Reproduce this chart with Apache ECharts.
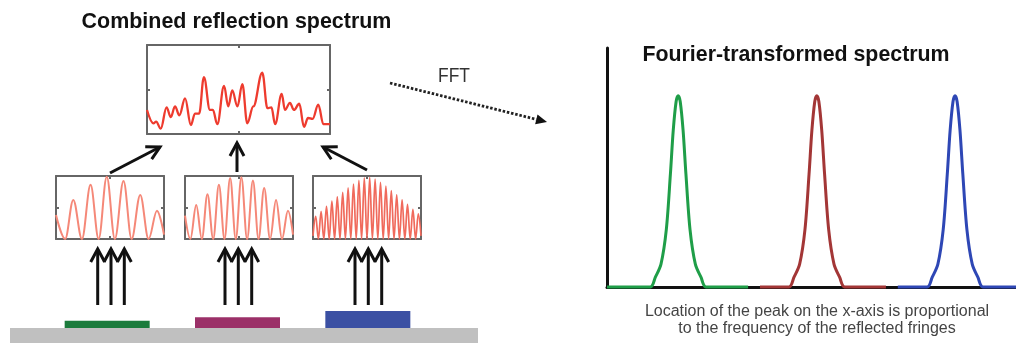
<!DOCTYPE html>
<html><head><meta charset="utf-8">
<script src="https://cdn.jsdelivr.net/npm/echarts@6/dist/echarts.min.js"></script>
<style>html,body{margin:0;padding:0;background:#fff}#c{width:1016px;height:343px}</style>
</head><body><div id="c"></div>
<script>
// ---- data ----
const combinedSpectrum = [
  [0,0.27],[0.035,0.12],[0.05,0.14],[0.075,0.06],[0.107,0.30],[0.13,0.19],[0.153,0.31],[0.177,0.21],
  [0.208,0.40],[0.24,0.10],[0.262,0.23],[0.285,0.23],[0.311,0.64],[0.344,0.27],[0.36,0.27],[0.384,0.11],
  [0.421,0.54],[0.444,0.31],[0.466,0.49],[0.494,0.31],[0.521,0.56],[0.548,0.12],[0.581,0.31],[0.63,0.69],
  [0.658,0.29],[0.68,0.30],[0.70,0.11],[0.736,0.45],[0.754,0.27],[0.781,0.35],[0.803,0.27],[0.832,0.34],
  [0.858,0.08],[0.88,0.18],[0.905,0.17],[0.936,0.33],[0.964,0.11],[1.0,0.11]
];
const fringesThin = [
  [0,0.38],[0.085,0],[0.16,0.62],[0.24,0],[0.32,0.86],[0.395,0],[0.47,0.99],[0.545,0],
  [0.625,0.92],[0.70,0],[0.78,0.70],[0.857,0],[0.935,0.45],[1.0,0.07]
];
const fringesMedium = [
  [0,0.37],[0.05,0],[0.104,0.54],[0.156,0],[0.208,0.71],[0.261,0],[0.314,0.86],[0.366,0],
  [0.418,0.97],[0.47,0],[0.522,0.98],[0.575,0],[0.629,0.93],[0.681,0],[0.733,0.81],[0.788,0],
  [0.843,0.62],[0.898,0],[0.953,0.45],[1.0,0.07]
];
const fringesThick = [
  [0,0.05],[0.025,0.36],[0.05,0],[0.075,0.44],[0.10,0],[0.125,0.52],[0.15,0],[0.175,0.60],[0.20,0],
  [0.225,0.67],[0.25,0],[0.275,0.74],[0.30,0],[0.325,0.81],[0.35,0],[0.375,0.87],[0.40,0],
  [0.425,0.93],[0.45,0],[0.475,0.97],[0.50,0],[0.525,0.98],[0.55,0],[0.575,0.95],[0.60,0],
  [0.625,0.90],[0.65,0],[0.675,0.84],[0.70,0],[0.725,0.77],[0.75,0],[0.775,0.70],[0.80,0],
  [0.825,0.62],[0.85,0],[0.875,0.55],[0.90,0],[0.925,0.47],[0.95,0],[0.975,0.40],[1.0,0.05]
];
const fftGreen = [
  [0,0],[10.6,0],[11.8,0.05],[13.2,0.12],[14.5,0.30],[15.5,0.59],[16.2,0.82],[16.9,0.97],[17.4,1],
  [17.9,0.97],[18.6,0.82],[19.3,0.59],[20.3,0.30],[21.6,0.12],[23.0,0.05],[24.2,0],[34.5,0]
];
const fftRed = [
  [37.4,0],[44.5,0],[45.7,0.05],[47.1,0.12],[48.4,0.30],[49.4,0.59],[50.1,0.82],[50.8,0.97],[51.3,1],
  [51.8,0.97],[52.5,0.82],[53.2,0.59],[54.2,0.30],[55.5,0.12],[56.9,0.05],[58.1,0],[68.2,0]
];
const fftBlue = [
  [71.1,0],[78.3,0],[79.5,0.05],[80.9,0.12],[82.2,0.30],[83.2,0.59],[83.9,0.82],[84.6,0.97],[85.1,1],
  [85.6,0.97],[86.3,0.82],[87.0,0.59],[88.0,0.30],[89.3,0.12],[90.7,0.05],[91.9,0],[100,0]
];
const filmNames = ['thin', 'medium', 'thick'];
const filmThickness = [7.3, 10.7, 17];
const titleLeft = 'Combined reflection spectrum';
const titleRight = 'Fourier-transformed spectrum';
const fftLabel = 'FFT';
const captionLines = ['Location of the peak on the x-axis is proportional', 'to the frequency of the reflected fringes'];

// ---- layout / style ----
const boxGrids = [
  {left:147, top:45, width:183, height:89},
  {left:56, top:176, width:108, height:63},
  {left:185, top:176, width:108, height:63},
  {left:313, top:176, width:108, height:63}
];
const boxLine = {color:'#666', width:2};
const xAxes = [], yAxes = [];
boxGrids.forEach((g, i) => {
  ['bottom','top'].forEach(p => xAxes.push({gridIndex:i, type:'value', min:0, max:1, interval:0.5, position:p,
    axisLine:{show:true, onZero:false, lineStyle:boxLine}, axisTick:{show:true, inside:true, length:3, lineStyle:boxLine},
    axisLabel:{show:false}, splitLine:{show:false}}));
  ['left','right'].forEach(p => yAxes.push({gridIndex:i, type:'value', min:0, max:1, interval:0.5, position:p,
    axisLine:{show:true, onZero:false, lineStyle:boxLine}, axisTick:{show:true, inside:true, length:3, lineStyle:boxLine},
    axisLabel:{show:false}, splitLine:{show:false}}));
});
// FFT grid (index 4)
xAxes.push({gridIndex:4, type:'value', min:0, max:100, axisLine:{show:true, onZero:false, lineStyle:{color:'#111', width:3}},
  axisTick:{show:false}, axisLabel:{show:false}, splitLine:{show:false}});
yAxes.push({gridIndex:4, type:'value', min:0, max:1.25, axisLine:{show:true, onZero:false, lineStyle:{color:'#111', width:3}},
  axisTick:{show:false}, axisLabel:{show:false}, splitLine:{show:false}});
// film grid (index 5)
xAxes.push({gridIndex:5, type:'category', data:filmNames, show:false});
yAxes.push({gridIndex:5, type:'value', min:0, max:20, show:false});

const grids = boxGrids.concat([
  {left:607, top:48, width:409, height:239},
  {left:42, top:308, width:391, height:20}
]);

function lineSeries(data, axis, color, width, smooth, mono) {
  const s = {type:'line', data, xAxisIndex:axis, yAxisIndex:axis, smooth, showSymbol:false, clip:false,
    lineStyle:{color, width}, z:3};
  if (mono) s.smoothMonotone = mono;
  return s;
}
const series = [
  lineSeries(combinedSpectrum, 0, '#ee3b2e', 2.3, 0.38, 'x'),
  lineSeries(fringesThin, 2, '#f58878', 2, 0.36, 'x'),
  lineSeries(fringesMedium, 4, '#f58878', 2, 0.36, 'x'),
  lineSeries(fringesThick, 6, '#f06a5c', 1.7, 0.36, 'x'),
  lineSeries(fftGreen, 8, '#1f9e48', 3, 0.3),
  lineSeries(fftRed, 8, '#a33636', 3, 0.3),
  lineSeries(fftBlue, 8, '#2e47b5', 3, 0.3),
  {type:'bar', xAxisIndex:9, yAxisIndex:9, barWidth:85,
   data: filmThickness.map((v, i) => ({value:v, itemStyle:{color:['#1b7b3c','#9b3068','#3b50a3'][i]}}))}
];

const graphic = [];
graphic.push({type:'rect', shape:{x:10, y:328, width:468, height:15}, style:{fill:'#c0c0c0'}, z:0});
function arrow(x1, y1, x2, y2) {
  const dx = x2 - x1, dy = y2 - y1, L = Math.hypot(dx, dy), ux = dx / L, uy = dy / L;
  const hl = 13, hw = 7, bx = x2 - ux * hl, by = y2 - uy * hl, px = -uy, py = ux;
  graphic.push({type:'line', shape:{x1, y1, x2, y2}, style:{stroke:'#111', lineWidth:3}, z:10});
  graphic.push({type:'polyline', shape:{points:[[bx + px * hw, by + py * hw], [x2, y2], [bx - px * hw, by - py * hw]]},
    style:{stroke:'#111', lineWidth:3, fill:null, lineJoin:'miter'}, z:10});
}
[[97.7,111,124.3],[225,238.3,251.7],[355,368.3,381.7]].forEach(g => g.forEach(x => arrow(x, 305, x, 249)));
arrow(110, 173, 160, 147);
arrow(237, 172, 237, 143);
arrow(367, 170, 323, 147);
// FFT dotted arrow
(function () {
  const x1 = 390, y1 = 83, x2 = 547, y2 = 122;
  const dx = x2 - x1, dy = y2 - y1, L = Math.hypot(dx, dy), ux = dx / L, uy = dy / L;
  const hl = 11, hw = 5, bx = x2 - ux * hl, by = y2 - uy * hl, px = -uy, py = ux;
  graphic.push({type:'line', shape:{x1, y1, x2:bx, y2:by}, style:{stroke:'#222', lineWidth:2.8, lineDash:[2.5, 1.8]}, z:10});
  graphic.push({type:'polygon', shape:{points:[[bx + px * hw, by + py * hw], [x2, y2], [bx - px * hw, by - py * hw]]},
    style:{fill:'#111'}, z:10});
})();
function text(t, x, y, size, weight, color, sx) {
  graphic.push({type:'text', x, y, scaleX:sx, z:10,
    style:{text:t, x:0, y:0, align:'center', verticalAlign:'middle', fontFamily:'Liberation Sans, Arial, sans-serif',
      fontSize:size, fontWeight:weight, fill:color}});
}
text(titleLeft, 236.5, 22, 22, 'bold', '#111', 0.975);
text(titleRight, 796, 55, 22, 'bold', '#111', 0.97);
text(fftLabel, 454, 76, 20, 'normal', '#333', 0.87);
text(captionLines[0], 817, 312, 16, 'normal', '#444', 1);
text(captionLines[1], 817, 329, 16, 'normal', '#444', 1);

const chart = echarts.init(document.getElementById('c'), null, {renderer:'canvas'});
chart.setOption({animation:false, backgroundColor:'#fff', grid:grids, xAxis:xAxes, yAxis:yAxes, series, graphic});
</script></body></html>
